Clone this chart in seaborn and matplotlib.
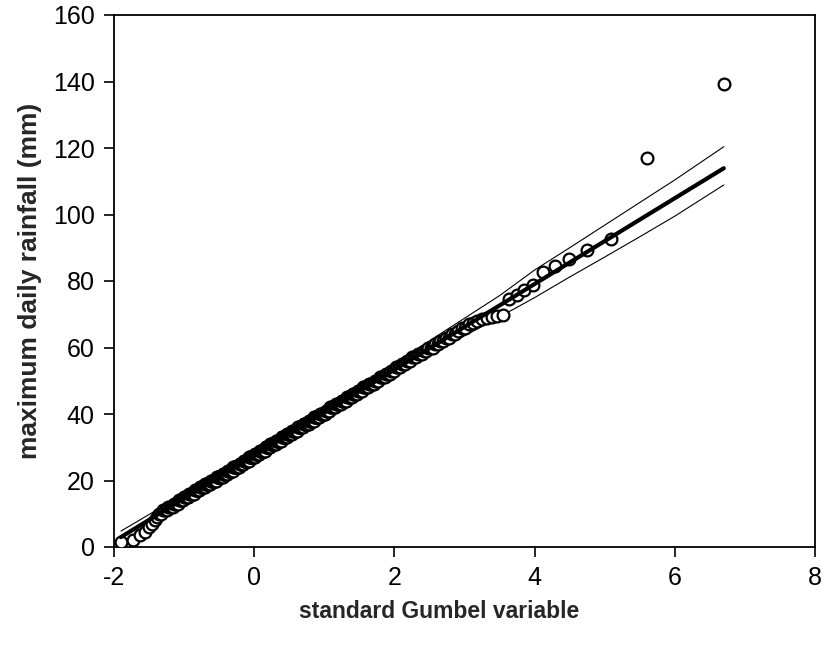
import numpy as np
import pandas as pd
import matplotlib
matplotlib.use("Agg")
import matplotlib.pyplot as plt
import seaborn as sns

# ---- data ----
# annual maximum daily rainfall (mm): distinct values and how many years had each
low_values = [1.6, 2.1, 3.6, 4.6, 6, 7, 8, 9, 10, 10]
mid_values = list(range(11, 67))
mid_counts = [3, 4, 4, 5, 6, 7, 7, 8, 9, 10,
              12, 9, 11, 13, 9, 11, 13, 10, 12, 10,
              12, 11, 11, 10, 10, 10, 10, 8, 9, 9,
              6, 8, 7, 7, 6, 6, 5, 6, 5, 4,
              5, 4, 3, 4, 3, 3, 3, 3, 2, 3,
              2, 2, 2, 2, 1, 2]
high_values = [67, 67.5, 68, 68.5, 69, 69.3, 69.6, 69.8,
               74.5, 75.8, 77.3, 78.8, 82.8, 84.6, 86.5, 89.3, 92.5, 117.1, 139.2]

# fitted Gumbel distribution (location, scale) in mm
gumbel_loc = 27.5
gumbel_scale = 12.9

# confidence bounds of the fitted line
bound_x = [-1.9, -1.0, 0.0, 1.0, 2.0, 3.0, 3.5, 4.0, 4.5, 5.0, 5.5, 6.0, 6.7]
bound_upper = [4.8, 16.0, 28.8, 41.9, 55.2, 68.8, 75.6, 83.3, 90.0, 96.8, 103.6, 110.4, 120.4]
bound_lower = [-0.5, 12.9, 26.2, 38.8, 51.2, 63.5, 69.2, 75.0, 81.2, 87.2, 93.3, 99.5, 108.9]

x_ticks = [-2, 0, 2, 4, 6, 8]
y_ticks = [0, 20, 40, 60, 80, 100, 120, 140, 160]

# ---- sample and plotting positions (Hazen) ----
rain = np.sort(np.concatenate([low_values,
                               np.repeat(mid_values, mid_counts),
                               high_values]).astype(float))
n = len(rain)
rank = np.arange(1, n + 1)
p = (rank - 0.5) / n
gum = -np.log(-np.log(p))
pts = pd.DataFrame({"gumbel": gum, "rain": rain})

fit = pd.DataFrame({"gumbel": [gum.min(), gum.max()]})
fit["rain"] = gumbel_loc + gumbel_scale * fit["gumbel"]

bnd = pd.DataFrame({"gumbel": bound_x, "upper": bound_upper, "lower": bound_lower})

# ---- drawing ----
sns.set_style("white")
plt.rcParams["font.family"] = ["Liberation Sans", "DejaVu Sans"]

fig = plt.figure(figsize=(8.23, 6.45), dpi=100)
ax = fig.add_axes([114 / 823, 1 - 547 / 645, (815 - 114) / 823, (547 - 15) / 645])

sns.lineplot(data=bnd, x="gumbel", y="upper", ax=ax, color="black", lw=0.8, sort=False)
sns.lineplot(data=bnd, x="gumbel", y="lower", ax=ax, color="black", lw=0.8, sort=False)
sns.scatterplot(data=pts, x="gumbel", y="rain", ax=ax, s=72, marker="o",
                facecolor="white", edgecolor="black", linewidth=1.6, zorder=3)
sns.lineplot(data=fit, x="gumbel", y="rain", ax=ax, color="black", lw=3.0, zorder=4)

ax.set_xlim(-2, 8)
ax.set_ylim(0, 160)
ax.set_xticks(x_ticks)
ax.set_yticks(y_ticks)
ax.set_xticklabels([str(t) for t in x_ticks])
ax.set_yticklabels([str(t) for t in y_ticks])
ax.tick_params(axis="both", direction="out", length=7, width=1.2,
               labelsize=18, color="black", labelcolor="black", pad=7,
               bottom=True, left=True, top=False, right=False)
for s in ax.spines.values():
    s.set_color("black")
    s.set_linewidth(1.3)
    s.set_visible(True)

ax.set_xlabel("standard Gumbel variable", fontsize=16.5, fontweight="bold")
ax.xaxis.set_label_coords(0.4636, -0.099)
ax.set_ylabel("maximum daily rainfall (mm)", fontsize=19, fontweight="bold", labelpad=8)

fig.savefig("out.png", dpi=100)
